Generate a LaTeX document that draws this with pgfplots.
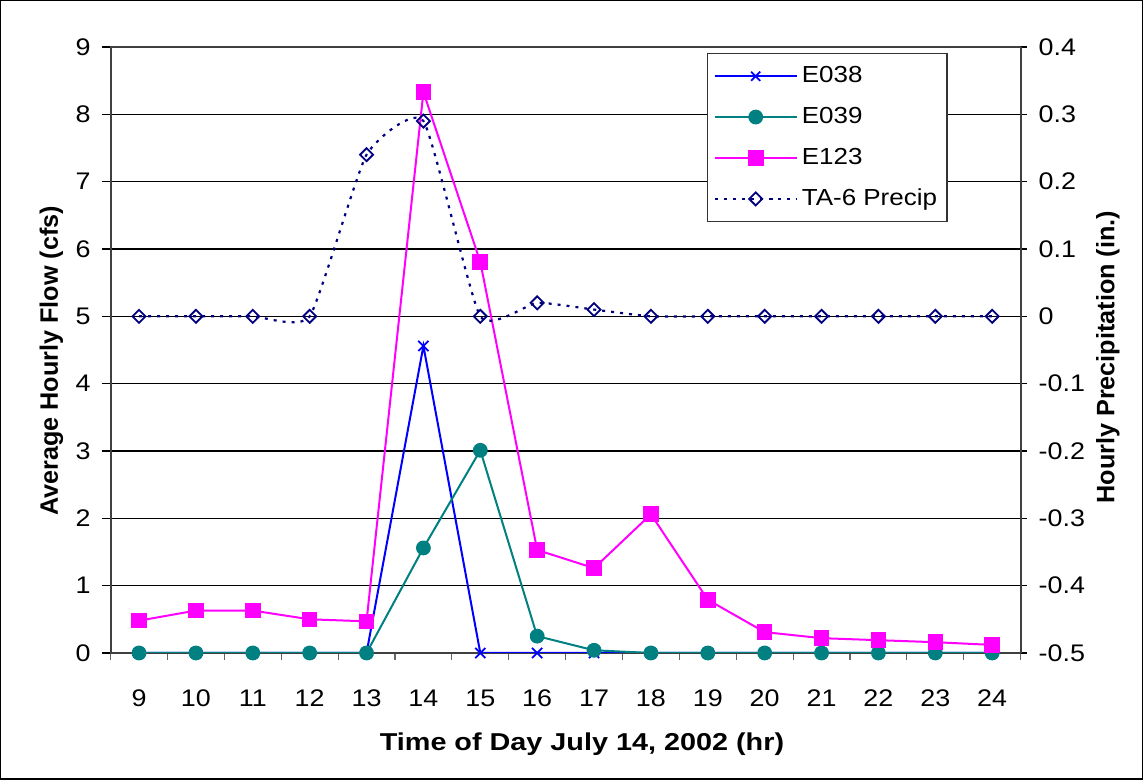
\documentclass[border=0pt]{standalone}
\usepackage{pgfplots}
\pgfplotsset{compat=1.18}
\usepackage{fontspec}
\setmainfont{Liberation Sans}
\newfontfamily\tickfont[FakeStretch=1.12]{Liberation Sans}
\newfontfamily\titlefont[FakeStretch=1.18]{Liberation Sans}
\usetikzlibrary{calc}
\definecolor{eblue}{RGB}{0,0,255}
\definecolor{eteal}{RGB}{0,128,128}
\definecolor{emag}{RGB}{255,0,255}
\definecolor{enavy}{RGB}{0,0,128}
\begin{document}
\begin{tikzpicture}
\pgfplotsset{
  common/.style={
    scale only axis, width=455pt, height=303pt,
    xmin=8.5, xmax=24.5,
    /pgf/number format/assume math mode=true,
    tick label style={font=\fontsize{12}{14}\tickfont},
    tick align=outside,
    axis line style={black!75, line width=1pt},
    major tick style={black, line width=0.6pt},
    minor tick style={black!60, line width=0.6pt},
  }
}
\begin{axis}[common, name=main,
  ymin=0, ymax=9, ytick={0,1,...,9},
  xtick={9,10,...,24},
  minor xtick={8.5,9.5,...,24.5},
  major x tick style={draw=none},
  minor tick length=3.5pt,
  major tick length=4.5pt,
  tick pos=left,
  xticklabel style={anchor=center, yshift=-18pt},
  yticklabel style={xshift=-2pt},
  ymajorgrids, grid style={black, line width=0.55pt},
  xlabel={Time of Day July 14, 2002 (hr)},
  xlabel style={font=\fontsize{12.2}{14}\titlefont\bfseries, at={(axis description cs:0.518,-0.150)}, anchor=center},
  ylabel={Average Hourly Flow (cfs)},
  ylabel style={font=\fontsize{12.6}{14}\selectfont\bfseries, at={(axis description cs:-0.0650,0.482)}, anchor=center},
  every axis plot/.append style={line width=1pt},
]
\addplot[eblue, mark=x, mark size=3.6pt, mark options={line width=0.9pt}] coordinates {
 (9,0) (10,0) (11,0) (12,0) (13,0) (14,4.56) (15,0) (16,0) (17,0) (18,0) (19,0) (20,0) (21,0) (22,0) (23,0) (24,0)};
\addplot[eteal, mark=*, mark size=3.2pt, mark options={fill=eteal}] coordinates {
 (9,0) (10,0) (11,0) (12,0) (13,0) (14,1.56) (15,3.01) (16,0.25) (17,0.04) (18,0) (19,0) (20,0) (21,0) (22,0) (23,0) (24,0)};
\addplot[emag, mark=square*, mark size=3.4pt, mark options={fill=emag}] coordinates {
 (9,0.48) (10,0.63) (11,0.63) (12,0.50) (13,0.47) (14,8.33) (15,5.81) (16,1.53) (17,1.26) (18,2.06) (19,0.79) (20,0.31) (21,0.22) (22,0.19) (23,0.16) (24,0.12)};
\end{axis}
\begin{axis}[common,
  ymin=-0.5, ymax=0.4,
  ytick={-0.5,-0.4,-0.3,-0.2,-0.1,0,0.1,0.2,0.3,0.4},
  yticklabel style={xshift=2.5pt, /pgf/number format/fixed, /pgf/number format/precision=1},
  axis x line=none, axis y line*=right, ytick pos=right,
  major tick length=3pt,
  ylabel={Hourly Precipitation (in.)},
  ylabel style={font=\fontsize{12.6}{14}\selectfont\bfseries, at={(axis description cs:1.096,0.488)}, anchor=center},
  legend style={at={(rel axis cs:0.6554,0.990)}, anchor=north west, draw=black!80, line width=0.6pt,
    font=\fontsize{11.6}{13}\tickfont, row sep=6.8pt, inner xsep=3pt, inner ysep=4.5pt, fill=white},
  legend cell align=left,
  legend image code/.code={\draw[mark repeat=2,mark phase=2] plot coordinates {(0pt,0pt) (20.5pt,0pt) (41pt,0pt)};},
]
\addlegendimage{eblue, line width=1pt, mark=x, mark size=3.2pt, mark options={line width=0.9pt}}
\addlegendentry{E038}
\addlegendimage{eteal, line width=1pt, mark=*, mark size=3.2pt, mark options={fill=eteal}}
\addlegendentry{E039}
\addlegendimage{emag, line width=1pt, mark=square*, mark size=3.4pt, mark options={fill=emag}}
\addlegendentry{E123}
\addplot[enavy, line width=1.1pt, dash pattern=on 1.5pt off 3pt, smooth, tension=0.3, mark=square, mark size=2.3pt, mark options={solid, rotate=45, line width=0.9pt, fill=white}] coordinates {
 (9,0) (10,0) (11,0) (12,0) (13,0.24) (14,0.29) (15,0) (16,0.02) (17,0.01) (18,0) (19,0) (20,0) (21,0) (22,0) (23,0) (24,0)};
\addlegendentry{TA-6 Precip}
\end{axis}
\path[use as bounding box] ($(main.south west)+(-55.3pt,-63.5pt)$) rectangle ($(main.north east)+(61.2pt,23.5pt)$);
\draw[black, line width=0.7pt] ($(main.south west)+(-54.9pt,-63.1pt)$) rectangle ($(main.north east)+(60.8pt,23.1pt)$);
\end{tikzpicture}
\end{document}
